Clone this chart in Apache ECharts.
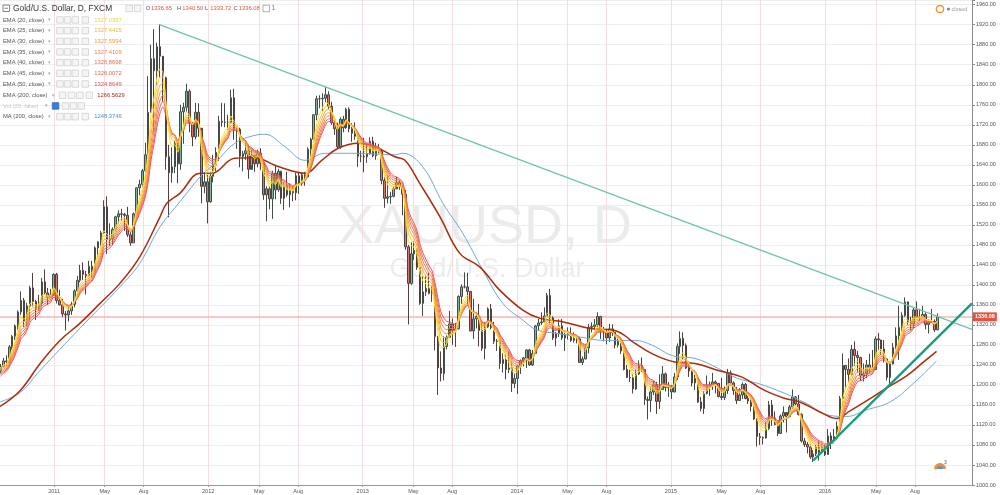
<!DOCTYPE html>
<html><head><meta charset="utf-8">
<script src="https://cdn.jsdelivr.net/npm/echarts@6/dist/echarts.min.js"></script>
<style>html,body{margin:0;padding:0;background:#fff}#c{width:1000px;height:495px}</style>
</head><body><div id="c"></div>
<script>
// ---- weekly candles: [high, low, close] per week (weeks ending Fridays from 2010-08-27)
const wk2010 = [
[1242,1223,1237],[1254,1235,1248],[1259,1238,1246],[1280,1244,1276],[1300,1270,1297],
[1321,1290,1318],[1349,1310,1346],[1387,1340,1369],[1374,1316,1327],[1364,1318,1358],
[1398,1330,1394],[1424,1357,1367],[1370,1330,1353],[1380,1348,1363],
[1414,1358,1406],[1431,1380,1384],[1394,1360,1375],[1392,1375,1380],[1423,1378,1421]];
const wk2011 = [
[1424,1363,1369],[1390,1359,1360],[1372,1336,1342],[1348,1309,1340],
[1357,1327,1348],[1366,1340,1361],[1391,1355,1388],[1418,1378,1409],
[1440,1405,1429],[1445,1410,1421],[1428,1381,1418],[1448,1420,1437],
[1448,1415,1428],[1477,1425,1474],[1487,1455,1486],[1508,1478,1504],[1569,1502,1556],
[1577,1462,1491],[1523,1478,1493],[1515,1480,1511],[1538,1507,1536],
[1549,1523,1542],[1552,1528,1541],[1544,1508,1539],[1556,1496,1500],
[1512,1478,1484],[1545,1484,1542],[1595,1540,1594],[1610,1579,1601],[1632,1596,1628],
[1684,1615,1660],[1817,1676,1745],[1880,1756,1852],[1911,1705,1828],
[1884,1800,1876],[1921,1815,1857],[1840,1766,1814],[1816,1630,1656],[1680,1535,1624],
[1675,1604,1636],[1688,1623,1683],[1681,1603,1642],[1760,1630,1746],
[1764,1682,1755],[1802,1745,1787],[1791,1705,1724],[1720,1677,1696],
[1764,1691,1745],[1763,1696,1713],[1709,1563,1597],[1623,1583,1606],[1620,1523,1566]];
const wk2012 = [
[1626,1564,1617],[1660,1605,1640],[1675,1627,1665],[1738,1648,1727],
[1764,1716,1725],[1763,1715,1725],[1740,1710,1725],[1790,1724,1774],
[1792,1690,1710],[1714,1672,1711],[1714,1635,1657],[1668,1627,1662],[1686,1650,1668],
[1680,1612,1631],[1670,1639,1659],[1653,1626,1642],[1670,1635,1663],
[1673,1630,1643],[1642,1570,1580],[1597,1527,1592],[1597,1551,1572],
[1628,1532,1623],[1640,1571,1590],[1632,1586,1627],[1628,1562,1573],[1605,1550,1598],
[1626,1576,1580],[1603,1555,1589],[1596,1567,1584],[1624,1569,1618],
[1625,1582,1603],[1623,1598,1620],[1626,1598,1616],[1675,1615,1671],[1694,1648,1691],
[1741,1685,1740],[1778,1729,1772],[1779,1753,1772],[1783,1748,1773],
[1796,1765,1780],[1787,1752,1757],[1766,1720,1724],[1728,1700,1712],
[1724,1673,1676],[1735,1672,1731],[1738,1705,1714],[1754,1712,1751],[1755,1705,1712],
[1723,1686,1703],[1725,1690,1697],[1700,1636,1657],[1668,1645,1657]];
const wk2013 = [
[1694,1625,1656],[1679,1644,1662],[1695,1660,1687],[1696,1655,1658],
[1684,1650,1669],[1682,1663,1667],[1672,1601,1609],[1616,1554,1573],
[1619,1563,1576],[1586,1562,1577],[1596,1575,1592],[1616,1600,1605],[1610,1590,1596],
[1587,1539,1581],[1590,1470,1476],[1480,1321,1403],[1485,1400,1462],
[1487,1450,1469],[1473,1430,1435],[1436,1360,1363],[1417,1338,1386],[1417,1378,1393],
[1424,1381,1383],[1398,1366,1387],[1392,1269,1297],[1298,1180,1234],
[1267,1207,1223],[1297,1209,1277],[1299,1271,1295],[1348,1312,1322],
[1333,1280,1309],[1324,1276,1312],[1379,1311,1377],[1401,1362,1396],[1425,1393,1396],
[1424,1361,1387],[1388,1307,1308],[1372,1292,1332],[1343,1313,1337],
[1362,1277,1309],[1326,1268,1273],[1326,1251,1316],[1355,1314,1352],
[1362,1311,1315],[1326,1282,1287],[1292,1268,1288],[1290,1232,1243],[1263,1225,1251],
[1260,1211,1231],[1267,1224,1234],[1245,1186,1203],[1223,1194,1213]];
const wk2014 = [
[1239,1182,1238],[1251,1222,1248],[1256,1237,1254],[1271,1234,1270],[1272,1238,1240],
[1270,1238,1263],[1320,1262,1318],[1332,1309,1324],[1345,1320,1326],
[1355,1330,1338],[1384,1338,1379],[1392,1323,1334],[1337,1290,1294],
[1306,1277,1303],[1331,1296,1318],[1332,1290,1294],[1305,1268,1301],
[1315,1291,1302],[1315,1286,1289],[1305,1285,1293],[1298,1283,1292],[1295,1244,1245],
[1257,1240,1252],[1279,1251,1274],[1322,1263,1315],[1325,1305,1317],
[1332,1310,1320],[1345,1316,1337],[1338,1292,1310],[1316,1287,1307],
[1311,1281,1294],[1322,1286,1312],[1321,1298,1305],[1306,1273,1280],[1295,1275,1287],
[1294,1262,1268],[1270,1229,1231],[1240,1214,1215],[1230,1206,1214],
[1221,1183,1192],[1231,1190,1222],[1249,1220,1239],[1255,1226,1231],[1232,1160,1171],
[1177,1131,1169],[1195,1146,1186],[1208,1180,1200],[1206,1142,1167],
[1221,1152,1191],[1238,1192,1222],[1225,1187,1195],[1206,1176,1195]];
const wk2015 = [
[1200,1172,1186],[1224,1185,1216],[1283,1210,1277],[1307,1262,1293],[1305,1251,1279],
[1283,1232,1234],[1247,1216,1228],[1232,1197,1204],[1220,1190,1213],
[1218,1164,1166],[1176,1147,1153],[1188,1142,1183],[1219,1181,1199],
[1207,1178,1201],[1224,1190,1206],[1209,1183,1203],[1204,1175,1177],
[1214,1170,1175],[1197,1170,1189],[1232,1182,1224],[1229,1201,1204],[1207,1180,1189],
[1196,1162,1169],[1194,1170,1180],[1205,1172,1201],[1204,1171,1173],
[1179,1162,1168],[1173,1147,1157],[1159,1130,1132],[1134,1077,1097],[1104,1080,1095],
[1097,1081,1094],[1126,1093,1113],[1168,1110,1160],[1170,1118,1134],
[1147,1119,1121],[1126,1098,1103],[1141,1102,1138],[1157,1125,1145],
[1140,1105,1137],[1160,1135,1156],[1191,1152,1176],[1178,1159,1162],[1180,1139,1141],
[1143,1085,1088],[1094,1076,1081],[1086,1063,1076],[1082,1052,1056],
[1070,1046,1062],[1080,1058,1075],[1089,1049,1065],[1082,1067,1076],[1080,1058,1061]];
const wk2016 = [
[1112,1061,1098],[1105,1072,1089],[1112,1083,1097],[1127,1095,1117],
[1178,1120,1173],[1263,1157,1239],[1240,1191,1231],[1253,1205,1221],
[1280,1218,1271],[1287,1238,1259],[1268,1225,1255],[1254,1208,1218],
[1243,1207,1222],[1250,1214,1240],[1262,1224,1234],[1270,1230,1231],[1297,1232,1292],
[1304,1270,1290],[1278,1260,1272],[1290,1245,1252],[1254,1209,1215],
[1244,1200,1242],[1284,1241,1275],[1315,1270,1298],[1358,1250,1315],
[1345,1306,1339],[1375,1336,1366],[1367,1320,1327],[1336,1310,1322],[1355,1313,1350],
[1367,1334,1335],[1352,1328,1336],[1358,1334,1341],[1345,1311,1321],
[1331,1303,1326],[1352,1324,1327],[1331,1306,1310],[1343,1310,1336.08]];
const firstOpen = 1228;

// ---- long averages: [date, value]
const ema200Pts = [
['2010-08-26',1157],['2010-10-13',1189],['2010-11-29',1243],['2011-01-15',1289],['2011-03-03',1323],
['2011-04-20',1363],['2011-06-06',1403],['2011-07-23',1456],['2011-09-09',1536],['2011-09-25',1563],
['2011-10-26',1583],['2011-12-13',1623],['2012-01-09',1623],['2012-03-04',1653],['2012-04-21',1654],
['2012-06-07',1639],['2012-07-25',1626],['2012-08-17',1623],['2012-09-26',1649],['2012-11-04',1673],
['2012-12-22',1683],['2013-01-30',1676],['2013-03-18',1656],['2013-04-11',1649],['2013-05-16',1603],
['2013-07-03',1536],['2013-08-19',1463],['2013-10-05',1436],['2013-11-22',1389],['2014-01-16',1349],
['2014-02-25',1333],['2014-04-21',1326],['2014-06-23',1313],['2014-08-21',1309],['2014-10-08',1283],
['2014-11-16',1263],['2015-01-10',1246],['2015-02-27',1243],['2015-04-23',1229],['2015-06-17',1216],
['2015-08-11',1189],['2015-09-28',1173],['2015-11-02',1166],['2015-12-20',1146],['2016-01-28',1133],
['2016-02-29',1148],['2016-04-08',1168],['2016-05-26',1194],['2016-07-12',1218],['2016-08-20',1245],
['2016-09-21',1267]];
const ma200Pts = [
['2010-08-26',1166],['2010-10-13',1185],['2010-11-29',1229],['2011-03-03',1313],['2011-06-06',1396],
['2011-07-23',1443],['2011-09-09',1516],['2011-10-26',1566],['2011-12-13',1616],['2012-01-17',1643],
['2012-03-04',1683],['2012-04-21',1699],['2012-05-14',1701],['2012-07-01',1676],['2012-08-17',1649],
['2012-10-03',1663],['2012-12-13',1663],['2013-03-18',1660],['2013-04-06',1663],['2013-05-23',1636],
['2013-07-10',1563],['2013-08-26',1503],['2013-10-13',1429],['2013-11-29',1363],['2014-01-16',1329],
['2014-02-17',1310],['2014-04-06',1303],['2014-05-23',1297],['2014-07-28',1289],['2014-10-08',1289],
['2014-11-16',1280],['2015-01-10',1257],['2015-02-27',1253],['2015-04-23',1233],['2015-06-08',1213],
['2015-07-26',1203],['2015-09-28',1183],['2015-11-18',1163],['2016-01-12',1139],['2016-02-21',1137],
['2016-04-08',1150],['2016-06-03',1166],['2016-07-28',1203],['2016-09-21',1248]];

// ---- drawn trend lines: [date, price]
const downTrend = [['2011-09-06',1920.8],['2016-12-14',1311]];
const upTrend = [['2015-12-04',1049],['2016-12-14',1363]];
const lastPrice = 1336.08;

// ---- text
const emaPeriods = [20,25,30,35,40,45,50];
const emaSeed = [1232,1229,1226,1222,1219,1216,1213];
const legendLabels = ['EMA (20, close)','EMA (25, close)','EMA (30, close)','EMA (35, close)','EMA (40, close)','EMA (45, close)','EMA (50, close)','EMA (200, close)','Vol (20, false)','MA (200, close)'];
const legendValues = ['1327.0357','1327.4415','1327.5994','1327.4109','1326.8698','1326.0072','1324.8649','1266.5629','','1248.3746'];
const ohlcLabels = ['O','H','L','C'];
const ohlcValues = ['1336.65','1340.50','1333.72','1336.08'];
const monthNames = ['Jan','Feb','Mar','Apr','May','Jun','Jul','Aug','Sep','Oct','Nov','Dec'];
const labelYears = [2011,2012,2013,2014,2015,2016];
const labelMonths = [0,4,7];
const axisStart = '2010-08-26', axisEnd = '2016-12-14';

// ---- styles
const FONT = "'Liberation Sans', Arial, sans-serif";
const emaColors = ['#fde12d','#fbc533','#f9a93c','#f68f46','#f27a4e','#ee6655','#e8535a'];
const legendValColors = ['#e6d33a','#f2b23c','#f3993f','#f0804a','#ec6e50','#e85e55','#e04f52','#a3301f','#999','#4f8fc2'];

function ts(s) { const p = s.split('-').map(Number); return new Date(p[0], p[1] - 1, p[2]).getTime(); }
const toTs = arr => arr.map(d => [ts(d[0]), d[1]]);

const weekly = [].concat(wk2010, wk2011, wk2012, wk2013, wk2014, wk2015, wk2016);
const candles = [];
let prev = firstOpen;
weekly.forEach((w, i) => {
  const t = new Date(2010, 7, 27 + 7 * i).getTime();
  candles.push([t, prev, w[2], w[1], w[0]]);
  prev = w[2];
});

// EMA of weekly closes, each daily period taken over 5 trading days per week
const emaSeries = emaPeriods.map((p, k) => {
  const a = 1 - Math.pow(1 - 2 / (p + 1), 5);
  let e = emaSeed[k];
  return candles.map(c => { e = e + a * (c[2] - e); return [c[0], +e.toFixed(2)]; });
});

const tickValues = [];
labelYears.forEach(y => labelMonths.forEach(m => tickValues.push(new Date(y, m, 1).getTime())));

const chart = echarts.init(document.getElementById('c'), null, {renderer: 'canvas'});

const series = [];
series.push({
  type: 'line', data: [], z: 0, silent: true,
  markLine: {
    silent: true, symbol: 'none', z: 0, animation: false,
    label: {show: false},
    lineStyle: {color: '#f4dede', width: 1, type: 'solid'},
    data: tickValues.map(t => ({xAxis: t}))
  }
});
series.push({
  type: 'candlestick', data: candles, barWidth: 2, z: 2,
  itemStyle: {color: '#7fb59b', color0: '#d9776b', borderColor: '#434d48', borderColor0: '#504040', borderWidth: 1},
  markLine: {
    silent: true, symbol: 'none', z: 1, animation: false,
    data: [{yAxis: lastPrice}],
    lineStyle: {color: '#f3b7ae', width: 1.5, type: 'solid'},
    label: {show: true, position: 'end', distance: 1, formatter: '1336.08',
      backgroundColor: '#e0553f', color: '#fff', fontFamily: FONT, fontSize: 5.5, fontWeight: 'bold', padding: [2, 2, 1, 2]}
  }
});
series.push({type: 'line', data: toTs(ma200Pts), smooth: 0.4, showSymbol: false, z: 3,
  lineStyle: {color: '#6ea7d6', width: 1}});
series.push({type: 'line', data: toTs(ema200Pts), smooth: 0.4, showSymbol: false, z: 3,
  lineStyle: {color: '#ad2b0c', width: 1.5}});
for (let k = emaPeriods.length - 1; k >= 0; k--) {
  series.push({type: 'line', data: emaSeries[k], smooth: 0.3, showSymbol: false, z: 4,
    lineStyle: {color: emaColors[k], width: 1}});
}
series.push({type: 'line', data: toTs(downTrend), showSymbol: false, z: 5, lineStyle: {color: '#6cc3ae', width: 1.2}});
series.push({type: 'line', data: toTs(upTrend), showSymbol: false, z: 5, lineStyle: {color: '#169c7e', width: 2.4}});

// header & legend graphics
const G = [];
const rowsY = [20, 30.7, 41.3, 52, 62.7, 73.3, 84, 95.3, 106, 116.7];
function txt(x, y, s, size, fill, extra) {
  return {type: 'text', silent: true, z: 100, style: Object.assign({x, y, text: s, font: size + 'px ' + FONT, fill, verticalAlign: 'middle', align: 'left'}, extra || {})};
}
function box(x, y, fill, stroke) {
  return {type: 'rect', silent: true, z: 100, shape: {x, y: y - 3.3, width: 6.5, height: 6.5}, style: {fill: fill || '#f5f5f5', stroke: stroke || '#d0d0d0', lineWidth: 0.8}};
}
// watermark
G.push({type: 'text', silent: true, z: -10, style: {x: 485, y: 228, text: 'XAUUSD, D', font: '54px ' + FONT, fill: 'rgba(0,0,0,0.08)', align: 'center', verticalAlign: 'middle'}});
G.push({type: 'text', silent: true, z: -10, style: {x: 487, y: 270, text: 'Gold/U.S. Dollar', font: '27px ' + FONT, fill: 'rgba(0,0,0,0.08)', align: 'center', verticalAlign: 'middle'}});
// title row
G.push({type: 'rect', silent: true, z: 100, shape: {x: 3, y: 5, width: 6.5, height: 6.5}, style: {fill: '#fff', stroke: '#666', lineWidth: 0.8}});
G.push({type: 'line', silent: true, z: 100, shape: {x1: 4.5, y1: 8.25, x2: 8, y2: 8.25}, style: {stroke: '#666', lineWidth: 0.8}});
G.push(txt(13, 8.5, 'Gold/U.S. Dollar, D, FXCM', 8.4, '#333'));
G.push(box(126, 8.5)); G.push(box(134.3, 8.5));
const ohlcX = [145.7, 177, 205, 233.5];
ohlcLabels.forEach((l, i) => {
  G.push(txt(ohlcX[i], 8.5, l, 5.8, '#555'));
  G.push(txt(ohlcX[i] + 5.3, 8.5, ohlcValues[i], 5.8, '#e0533f'));
});
G.push(box(263, 8.5, '#fff', '#999'));
G.push(txt(271.5, 8, '1', 7, '#3b8fd9'));
// legend rows
legendLabels.forEach((l, i) => {
  const y = rowsY[i];
  const isVol = i === 8;
  const wide = i === 7;
  G.push(txt(3, y, l, 5.8, isVol ? '#c8c8c8' : '#555'));
  const arrowX = wide ? 51.5 : (isVol ? 45 : 47.5);
  G.push(txt(arrowX, y, '\u25BE', 5, '#aaa'));
  const bx = wide ? [59.3, 68.3, 76.7, 86] : (isVol ? [52.3, 62.3, 70.3, 78] : [56.7, 64.3, 72, 82]);
  bx.forEach((x, j) => G.push(isVol && j === 0 ? box(x, y, '#3a7fd0', '#2a6ab8') : box(x, y)));
  if (legendValues[i]) G.push(txt(wide ? 97.3 : 94.3, y, legendValues[i], 5.8, legendValColors[i]));
});
// top-right status
G.push({type: 'circle', silent: true, z: 100, shape: {cx: 940, cy: 9, r: 3.6}, style: {fill: '#fff', stroke: '#f7931e', lineWidth: 1.5}});
G.push({type: 'circle', silent: true, z: 100, shape: {cx: 948.5, cy: 9, r: 1.6}, style: {fill: '#888'}});
G.push(txt(951.5, 9, 'closed', 5.5, '#999'));
// bottom-right badge
G.push({type: 'sector', silent: true, z: 100, shape: {cx: 940, cy: 469, r0: 0, r: 6, startAngle: Math.PI, endAngle: 2 * Math.PI}, style: {fill: '#f08a3c'}});
G.push({type: 'sector', silent: true, z: 100, shape: {cx: 940, cy: 469, r0: 0, r: 3, startAngle: Math.PI, endAngle: 2 * Math.PI}, style: {fill: '#5b8fd8'}});
G.push(txt(944, 463, '3', 5, '#555'));

chart.setOption({
  animation: false,
  backgroundColor: '#ffffff',
  grid: {left: 0, right: 28, top: 0, bottom: 10, containLabel: false},
  xAxis: {
    type: 'value',
    min: ts(axisStart),
    max: ts(axisEnd),
    axisLine: {show: true, onZero: false, lineStyle: {color: '#9a9a9a', width: 1}},
    axisTick: {show: true, length: 2, lineStyle: {color: '#9a9a9a'}, customValues: tickValues},
    axisLabel: {
      customValues: tickValues, margin: 3, fontSize: 5.5, color: '#555', fontFamily: FONT,
      formatter: v => { const d = new Date(v); return d.getMonth() === 0 ? String(d.getFullYear()) : monthNames[d.getMonth()]; }
    },
    splitLine: {show: false}
  },
  yAxis: {
    type: 'value', position: 'right', min: 1000, max: 1969.4, interval: 40,
    axisLine: {show: true, lineStyle: {color: '#8a8a8a', width: 1}},
    axisTick: {show: true, length: 3, lineStyle: {color: '#8a8a8a'}},
    axisLabel: {margin: 4, fontSize: 5.5, color: '#555', fontFamily: FONT,
      formatter: v => (Math.abs(v % 40) < 1e-6 ? v.toFixed(2) : '')},
    splitLine: {show: true, lineStyle: {color: '#eeeeee', width: 1}}
  },
  series: series,
  graphic: {elements: G}
});
</script></body></html>
